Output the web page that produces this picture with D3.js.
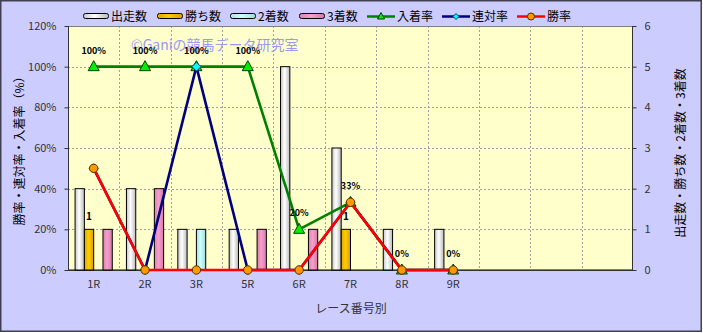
<!DOCTYPE html>
<html><head><meta charset="utf-8">
<script src="https://cdn.jsdelivr.net/npm/d3@7"></script>
<style>
html,body{margin:0;padding:0;background:#fff;}
text{font-family:"Noto Sans CJK JP","Noto Sans",sans-serif;}
</style></head>
<body><svg id="c" width="703" height="333"></svg>
<script>
const categories = ["1R","2R","3R","5R","6R","7R","8R","9R","","",""];
const starts   = [2,2,1,1,5,3,1,1];      // 出走数
const wins     = [1,0,0,0,0,1,0,0];      // 勝ち数
const seconds  = [0,0,1,0,0,0,0,0];      // 2着数
const thirds   = [1,2,0,1,1,0,0,0];      // 3着数
const placeRate = [100,100,100,100,20,33.3,0,0]; // 入着率
const rentaiRate = [50,0,100,0,0,33.3,0,0];       // 連対率
const winRate   = [50,0,0,0,0,33.3,0,0];          // 勝率
const placeLabels = ["100%","100%","100%","100%","20%","33%","0%","0%"];
const leftTicks = [0,20,40,60,80,100,120];
const rightTicks = [0,1,2,3,4,5,6];
const barSeries = ["出走数","勝ち数","2着数","3着数"];
const barData = [starts, wins, seconds, thirds];

const svg = d3.select("#c");
const L=68,R=633,T=26,B=270;

svg.append("rect").attr("x",0.75).attr("y",0.75).attr("width",700.5).attr("height",330.5)
  .attr("fill","#ccccff").attr("stroke","#404050").attr("stroke-width",1.5);

const defs = svg.append("defs");
function grad(id, c1, c2, c3){
  const g = defs.append("linearGradient").attr("id",id).attr("x1","0").attr("x2","1").attr("y1","0").attr("y2","0");
  g.append("stop").attr("offset","0%").attr("stop-color",c1);
  g.append("stop").attr("offset","45%").attr("stop-color",c2);
  g.append("stop").attr("offset","100%").attr("stop-color",c3);
}
grad("g0","#c8c8c8","#ffffff","#b8b8b8");
grad("g1","#e0a800","#ffcc00","#d9a000");
grad("g2","#a8e0e0","#ccffff","#a0dada");
grad("g3","#e080b0","#f4a0cc","#d878a8");
const fills=["url(#g0)","url(#g1)","url(#g2)","url(#g3)"];

svg.append("rect").attr("x",L).attr("y",T).attr("width",R-L).attr("height",B-T).attr("fill","#ffffcc");

const x = d3.scaleBand().domain(d3.range(categories.length)).range([L,R]).padding(0);
const bw = x.bandwidth();
const xs = d3.scaleBand().domain(d3.range(4)).range([bw*0.138, bw*0.862]).padding(0);
const yL = d3.scaleLinear().domain([0,120]).range([B,T]);
const yR = d3.scaleLinear().domain([0,6]).range([B,T]);

// gridlines
const grid = svg.append("g").attr("stroke","#a0a0a0").attr("stroke-dasharray","2,2").attr("stroke-width",1);
leftTicks.filter(t=>t>0 && t<120).forEach(t=>{
  grid.append("line").attr("x1",L).attr("x2",R).attr("y1",Math.round(yL(t))+0.5).attr("y2",Math.round(yL(t))+0.5);
});
d3.range(1,categories.length).forEach(i=>{
  const xx=Math.round(x(i))+0.5;
  grid.append("line").attr("x1",xx).attr("x2",xx).attr("y1",T).attr("y2",B);
});

// watermark
svg.append("text").attr("x",131).attr("y",50).attr("font-size",14).attr("fill","#9a9af0")
  .text("©Ganiの競馬データ研究室");

// plot border
svg.append("rect").attr("x",L+0.5).attr("y",T+0.5).attr("width",R-L-1).attr("height",B-T-1)
  .attr("fill","none").attr("stroke","#808080").attr("stroke-width",1);
svg.append("line").attr("x1",L+0.5).attr("x2",L+0.5).attr("y1",T).attr("y2",B+1).attr("stroke","#333");
svg.append("line").attr("x1",R-0.5).attr("x2",R-0.5).attr("y1",T).attr("y2",B+1).attr("stroke","#333");
svg.append("line").attr("x1",L).attr("x2",R).attr("y1",B+0.5).attr("y2",B+0.5).attr("stroke","#333");

// bars
barData.forEach((arr,si)=>{
  svg.append("g").selectAll("rect").data(arr.map((v,i)=>({v,i})).filter(d=>d.v>0)).join("rect")
    .attr("x",d=>x(d.i)+xs(si))
    .attr("y",d=>yR(d.v))
    .attr("width",xs.bandwidth())
    .attr("height",d=>B-yR(d.v))
    .attr("fill",fills[si]).attr("stroke","#000").attr("stroke-width",1);
});

// wins labels
svg.append("g").selectAll("text").data(wins.map((v,i)=>({v,i})).filter(d=>d.v>0)).join("text")
  .attr("x",d=>x(d.i)+xs(1)+xs.bandwidth()/2)
  .attr("y",d=>yR(d.v)-9).attr("text-anchor","middle").attr("font-size",10).attr("font-weight","bold").attr("fill","#000")
  .text(d=>d.v);

const cx = i=>x(i)+bw/2;
function lineSeries(vals,color){
  svg.append("path").datum(vals).attr("fill","none").attr("stroke",color).attr("stroke-width",2.6)
    .attr("stroke-linejoin","round")
    .attr("d",d3.line().x((d,i)=>cx(i)).y(d=>yL(d)));
}
// 入着率
lineSeries(placeRate,"#008000");
svg.append("g").selectAll("path").data(placeRate).join("path")
  .attr("transform",(d,i)=>`translate(${cx(i)},${yL(d)})`)
  .attr("d","M0,-6L5.5,4L-5.5,4Z").attr("fill","#00ee00").attr("stroke","#004000").attr("stroke-width",1);
// 連対率
lineSeries(rentaiRate,"#000080");
svg.append("g").selectAll("path").data(rentaiRate).join("path")
  .attr("transform",(d,i)=>`translate(${cx(i)},${yL(d)})`)
  .attr("d","M0,-4.5L4.5,0L0,4.5L-4.5,0Z").attr("fill","#00ffff").attr("stroke","#004060").attr("stroke-width",1);
// 勝率
lineSeries(winRate,"#ff0000");
svg.append("g").selectAll("circle").data(winRate).join("circle")
  .attr("cx",(d,i)=>cx(i)).attr("cy",d=>yL(d)).attr("r",4.2)
  .attr("fill","#ff9900").attr("stroke","#503000").attr("stroke-width",1);

// place labels
svg.append("g").selectAll("text").data(placeRate).join("text")
  .attr("x",(d,i)=>cx(i)).attr("y",d=>yL(d)-13)
  .attr("text-anchor","middle").attr("font-size",9).attr("font-weight","bold").attr("fill","#000")
  .text((d,i)=>placeLabels[i]);

// left axis
const gl = svg.append("g").attr("transform",`translate(${L+0.5},0)`);
gl.call(d3.axisLeft(yL).tickValues(leftTicks).tickFormat(d=>d+"%").tickSize(4).tickPadding(8));
gl.select(".domain").remove();
gl.selectAll(".tick line").attr("stroke","#333");
gl.selectAll(".tick text").attr("font-size",11).attr("fill","#333").attr("font-family","'Liberation Sans',sans-serif");
const gr = svg.append("g").attr("transform",`translate(${R-0.5},0)`);
gr.call(d3.axisRight(yR).tickValues(rightTicks).tickFormat(d3.format("d")).tickSize(4).tickPadding(8));
gr.select(".domain").remove();
gr.selectAll(".tick line").attr("stroke","#333");
gr.selectAll(".tick text").attr("font-size",11).attr("fill","#333").attr("font-family","'Liberation Sans',sans-serif");

// x axis labels
const gx = svg.append("g").attr("transform",`translate(0,${B})`);
gx.call(d3.axisBottom(x).tickFormat(i=>categories[i]).tickSize(0).tickPadding(10));
gx.select(".domain").remove();
gx.selectAll(".tick text").attr("font-size",11).attr("fill","#333").attr("font-family","'Liberation Sans',sans-serif");

// axis titles
svg.append("text").attr("x",351).attr("y",313).attr("text-anchor","middle").attr("font-size",12).attr("fill","#333").text("レース番号別");
svg.append("text").attr("transform","translate(24,148) rotate(-90)").attr("text-anchor","middle").attr("font-size",12).attr("fill","#000").text("勝率・連対率・入着率（%）");
svg.append("text").attr("transform","translate(685,153) rotate(-90)").attr("text-anchor","middle").attr("font-size",12).attr("fill","#000").text("出走数・勝ち数・2着数・3着数");

// legend
const lg = svg.append("g");
const barLeg = [[83,"出走数"],[157,"勝ち数"],[230,"2着数"],[299,"3着数"]];
barLeg.forEach((b,i)=>{
  lg.append("rect").attr("x",b[0]+0.5).attr("y",13.5).attr("width",25).attr("height",5).attr("rx",2)
    .attr("fill",fills[i]).attr("stroke","#000").attr("stroke-width",1);
  lg.append("text").attr("x",b[0]+28).attr("y",21).attr("font-size",12).attr("fill","#000").text(barSeries[i]);
});
const lineLeg = [[367,"入着率","#008000"],[442,"連対率","#000080"],[517,"勝率","#ff0000"]];
lineLeg.forEach((l,i)=>{
  lg.append("line").attr("x1",l[0]).attr("x2",l[0]+28).attr("y1",16.5).attr("y2",16.5).attr("stroke",l[2]).attr("stroke-width",2.5);
  const mx=l[0]+14;
  if(i===0) lg.append("path").attr("transform",`translate(${mx},16.5)`).attr("d","M0,-4L3.5,2.5L-3.5,2.5Z").attr("fill","#00ee00").attr("stroke","#004000");
  if(i===1) lg.append("path").attr("transform",`translate(${mx},16.5)`).attr("d","M0,-3L3,0L0,3L-3,0Z").attr("fill","#00ffff").attr("stroke","#004060");
  if(i===2) lg.append("circle").attr("cx",mx).attr("cy",16.5).attr("r",3.5).attr("fill","#ff9900").attr("stroke","#503000");
  lg.append("text").attr("x",l[0]+30).attr("y",21).attr("font-size",12).attr("fill","#000").text(l[1]);
});
</script></body></html>
